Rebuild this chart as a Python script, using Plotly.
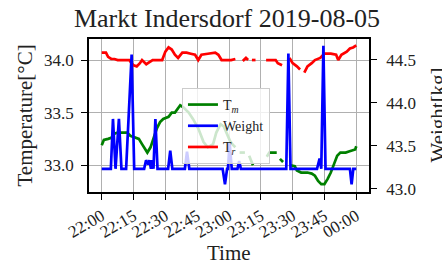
import pandas as pd
import plotly.graph_objects as go

NaN = None
base = pd.Timestamp("2019-08-05 22:00:00")

# T_m (green, left axis)
tm_min = [0, 1, 3, 4.5, 6, 7.5, 10, 12, 13.5, 16, 17.5, 19, 20.5, 21.5, 23, 24.5, 26, 27.5, 29,
          31.5, 33, 34.5, 36, 37, 38.5, 41, 43, 45.5, 48, 50, 52.5, 54, 56, 57.5, 59, 60.5, 62, 63,
          64, 65, 67.5, 68.5, 69.5, 71.3, 72, 77.8, 79, 82.5, 83.2, 84, 85.5, 86.5,
          89, 91, 92, 94, 97, 99, 100.5, 102, 103.5, 105, 106.5, 108, 109.5, 111, 112.5, 115,
          116.5, 118, 119.5, 120]
tm_val = [33.19, 33.24, 33.25, 33.26, 33.30, 33.31, 33.31, 33.31, 33.28, 33.26, 33.25, 33.20,
          33.15, 33.12, 33.17, 33.26, 33.35, 33.41, 33.44, 33.46, 33.50, 33.50, 33.55, 33.57,
          33.55, 33.50, 33.44, 33.35, 33.22, 33.17, 33.20, 33.31, 33.39, 33.37, 33.30, 33.23,
          33.19, 33.17, NaN, 33.12, 33.12, NaN, 33.09, 33.00, NaN, 33.08, 33.12, 33.12, NaN,
          33.06, 33.03, NaN, 33.00, 32.99, 32.95, 32.93, 32.93, 32.92, 32.90, 32.85, 32.82,
          32.82, 32.87, 32.93, 33.01, 33.09, 33.12, 33.12, 33.13, 33.14, 33.15, 33.18]

# Weight (blue, right axis)
w_min = [0, 4.3, 5.3, 6.5, 8.1, 9.3, 11.5, 14.1, 15.3, 20, 20.9, 21.9, 22.5, 23.2, 23.8, 24.4,
         25.3, 26.3, 31.3, 32.3, 33.3, 39.2, 40.2, 41.3, 57, 58.1, 59.1, 59.5, 60.3, 61.3, 64,
         64.8, 65.6, 87, 88, 89, 101.5, 102.7, 103.5, 104.5, 105.5, 117, 117.8, 118.6, 120]
w_val = [43.23, 43.23, 43.81, 43.23, 43.81, 43.23, 43.23, 44.56, 43.23, 43.23, 43.33, 43.28,
         43.33, 43.23, 43.33, 43.23, 43.81, 43.23, 43.23, 43.44, 43.23, 43.23, 43.43, 43.23,
         43.23, 43.05, 43.23, 43.23, 43.53, 43.23, 43.23, 43.32, 43.23, 43.23, 44.57, 43.23,
         43.23, 43.35, 43.23, 44.66, 43.23, 43.23, 43.05, 43.23, 43.23]

# T_r (red, left axis)
tr_min = [0, 2, 3, 4.5, 6, 7.5, 10.5, 13, 14, 15, 16.5, 18, 19, 20, 21, 22.5, 24, 28.5, 30,
          31.5, 33, 34.5, 36, 38, 40, 42, 44, 45.5, 47, 50, 53.5, 55, 56.5, 61, 63, 64,
          66.5, 68, 69, 69.8, 70.8, 72.5, 74, 77.5, 82, 83, 85, 86, 88.5, 90, 92, 93.5, 94.5,
          95.5, 97, 99, 100.5, 103, 105, 108, 110.5, 111.5, 113, 115.5, 117, 118.5, 120]
tr_val = [34.07, 34.07, 34.03, 34.01, 34.01, 34.00, 34.00, 34.00, 33.97, 33.95, 33.94, 33.97,
          34.00, 33.98, 33.96, 33.98, 34.00, 34.00, 34.08, 34.12, 34.10, 34.05, 34.02, 34.07,
          34.07, 34.06, 34.05, 34.00, 34.05, 34.06, 34.07, 34.05, 34.00, 34.00, 34.01, NaN,
          33.99, 34.02, 34.00, NaN, 34.00, 34.00, NaN, 34.00, 34.00, 33.97, 33.95, NaN,
          34.02, 33.97, 33.94, 33.91, NaN, 33.88, 33.94, 33.97, 34.00, 34.02, 34.06, 34.06,
          34.05, 34.00, 34.05, 34.08, 34.11, 34.12, 34.14]

x_tick_labels = ["22:00", "22:15", "22:30", "22:45", "23:00", "23:15", "23:30", "23:45", "00:00"]
left_ticks = [33.0, 33.5, 34.0]
right_ticks = [43.0, 43.5, 44.0, 44.5]


def to_t(mins):
    return base + pd.to_timedelta(mins, unit="min")


FONT = "Liberation Serif"
TXT = "#222"
fig = go.Figure()
fig.add_trace(go.Scatter(x=to_t(tm_min), y=tm_val, mode="lines", name="T<sub><i>m</i></sub>",
                         line=dict(color="#008000", width=2.7), connectgaps=False))
fig.add_trace(go.Scatter(x=to_t(w_min), y=w_val, mode="lines", name="Weight", yaxis="y2",
                         line=dict(color="#0000ff", width=2.7)))
fig.add_trace(go.Scatter(x=to_t(tr_min), y=tr_val, mode="lines", name="T<sub><i>r</i></sub>",
                         line=dict(color="#ff0000", width=2.7), connectgaps=False))

tickvals_x = [base + pd.Timedelta(minutes=15 * i) for i in range(len(x_tick_labels))]

axis_common = dict(showline=True, linecolor="black", linewidth=1.5, ticks="outside",
                   ticklen=6, tickwidth=1.3, tickcolor="black", zeroline=False, automargin=False,
                   tickfont=dict(family=FONT, size=17, color=TXT))

fig.update_layout(
    width=442, height=264,
    margin=dict(l=89, r=73, t=39, b=72),
    paper_bgcolor="white", plot_bgcolor="white",
    font=dict(family=FONT, color=TXT),
    title=dict(text="Markt Indersdorf 2019-08-05", x=(227 / 442), xref="container", xanchor="center",
               y=0.967, yanchor="top", font=dict(family=FONT, size=26, color=TXT)),
    xaxis=dict(type="date", range=[base - pd.Timedelta(minutes=6), base + pd.Timedelta(minutes=126)],
               tickvals=tickvals_x, ticktext=x_tick_labels, tickangle=-30,
               showgrid=True, gridcolor="#b0b0b0", gridwidth=1, mirror=True,
               **axis_common),
    yaxis=dict(range=[32.745, 34.2], tickvals=left_ticks, ticktext=[f"{v:.1f}" for v in left_ticks],
               showgrid=True, gridcolor="#b0b0b0", gridwidth=1, mirror=True, ticklabelstandoff=4,
               **axis_common),
    yaxis2=dict(range=[42.96, 44.74], tickvals=right_ticks, ticktext=[f"{v:.1f}" for v in right_ticks],
                overlaying="y", side="right", showgrid=False, ticklabelstandoff=6,
                **axis_common),
    legend=dict(x=0.332, y=0.68, xanchor="left", yanchor="top",
                bgcolor="rgba(255,255,255,0.8)", bordercolor="#cccccc", borderwidth=1,
                font=dict(family=FONT, size=14, color=TXT), tracegroupgap=0),
    showlegend=True,
    annotations=[
        dict(text="Temperature[°C]", xref="paper", yref="paper", x=(24 - 89) / 280, y=0.5,
             xanchor="center", yanchor="middle", textangle=-90, showarrow=False,
             font=dict(family=FONT, size=21, color=TXT)),
        dict(text="Weight[kg]", xref="paper", yref="paper", x=(437 - 89) / 280, y=0.5,
             xanchor="center", yanchor="middle", textangle=-90, showarrow=False,
             font=dict(family=FONT, size=21, color=TXT)),
        dict(text="Time", xref="paper", yref="paper", x=0.5, y=1 - (253 - 39) / 153,
             xanchor="center", yanchor="middle", showarrow=False,
             font=dict(family=FONT, size=21, color=TXT)),
    ],
)

fig.write_html("out.html", config={"displayModeBar": False},
               post_script="document.body.style.margin='0';document.body.style.overflow='hidden';")
